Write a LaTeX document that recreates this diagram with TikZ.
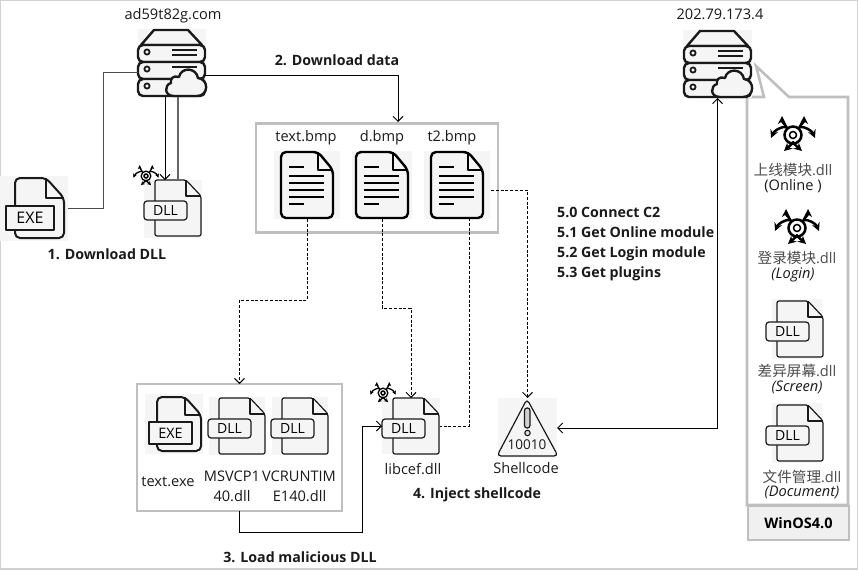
\documentclass[tikz,border=0pt]{standalone}
\usepackage{fontspec}
\setmainfont{Open Sans}
\newfontfamily\cjk{Noto Sans CJK SC}
\usetikzlibrary{arrows.meta}
\definecolor{boxgray}{HTML}{BFBFBF}
\definecolor{icongray}{HTML}{F5F5F5}
\definecolor{ink}{HTML}{1A1A1A}
\tikzset{
  iconbox/.style = {fill=icongray, inner sep=0pt, outer sep=0pt},
  grouped/.style = {draw=boxgray, line width=2.6pt, inner sep=0pt, outer sep=0pt, fill=white},
  lbl/.style = {inner sep=0pt, text=ink, font=\fontsize{14.6}{16}\selectfont},
  stepnote/.style = {lbl, font=\fontsize{14.2}{16}\selectfont\bfseries},
  cjknote/.style = {lbl, text=black!70},
  thin link/.style = {draw=black, line width=.9pt},
  dash link/.style = {draw=black, line width=.9pt, dash pattern=on 3pt off 1.8pt},
  virus line/.style = {line width=2.5pt},
  virus tip/.style = {-{Stealth[length=8pt,width=8pt]}},
  server/.pic = {
    \begin{scope}[line width=2.4pt, draw=ink, fill=icongray, line join=round]
      \filldraw (3,16) -- (16,1) -- (50,1) -- (64,16) -- cycle;
      \filldraw[rounded corners=5pt] (0,16) rectangle (67,33);
      \filldraw[rounded corners=5pt] (0,33) rectangle (67,50);
      \filldraw[rounded corners=5pt] (0,50) rectangle (67,67);
      \draw[line width=1.8pt] (9,23) circle (2.6) (9,40) circle (2.6) (9,57) circle (2.6);
      \draw (34,21) -- (59,21) (34,26) -- (59,26) (34,38) -- (59,38);
      \filldraw (36,67) -- (59,67) .. controls (71,67) and (71,50) .. (60,49)
        .. controls (58,38) and (43,38) .. (41,48)
        .. controls (35,46) and (32,50) .. (33,54)
        .. controls (26,56) and (26,67) .. (36,67) -- cycle;
    \end{scope}
  },
  docfile/.pic = {
    \begin{scope}[line width=2.4pt, draw=black, line join=round]
      \draw[fill=icongray, rounded corners=5pt] (0,0) -- (37,0) -- (52,18) -- (52,66) -- (0,66) -- cycle;
      \draw[line width=1.8pt] (37,0) -- (37,18) -- (52,18);
      \draw[line width=1.8pt] (8,15) -- (23,15) (8,24) -- (43,24) (8,31) -- (43,31)
        (8,38) -- (43,38) (8,45) -- (43,45) (8,52) -- (23,52);
    \end{scope}
  },
  dllfile/.pic = {
    \begin{scope}[line width=1.2pt, draw=ink, line join=round]
      \draw[fill=icongray, rounded corners=2pt] (0,0) -- (31,0) -- (46,16) -- (46,56) -- (0,56) -- cycle;
      \draw (31,0) -- (31,16) -- (46,16);
      \node[draw=ink, fill=icongray, rounded corners=3pt, line width=1.2pt, minimum width=43pt, minimum height=19pt,
        inner sep=0pt, font=\fontsize{14}{15}\selectfont] (-tag) at (10.5,30.5) {DLL};
    \end{scope}
  },
  exefile/.pic = {
    \begin{scope}[line width=2pt, draw=ink, line join=round]
      \draw[fill=icongray, rounded corners=5pt] (0,0) -- (31,0) -- (49,20) -- (49,60) -- (0,60) -- cycle;
      \draw (31,0) -- (31,20) -- (49,20);
      \node[transform shape, draw=ink, fill=icongray, line width=2pt, minimum width=48pt, minimum height=24pt,
        inner sep=0pt, font=\fontsize{16}{16}\selectfont] (-tag) at (15,40) {EXE};
    \end{scope}
  },
  virus/.pic = {
    \begin{scope}[virus line, draw=black, virus tip]
      \draw[-] (0,0) circle (8.5);
      \draw[-,line width=1.5pt] (0,0) circle (3.5);
      \draw (-6,-7) .. controls (-8,-11) and (-11,-13) .. (-11,-19);
      \draw (6,-7) .. controls (8,-11) and (11,-13) .. (11,-19);
      \draw (-6,-8) .. controls (-12,-9) and (-19,-4) .. (-22,3);
      \draw (6,-8) .. controls (12,-9) and (19,-4) .. (22,3);
      \draw (1,7) -- (-9,16);
      \draw (-1,7) -- (9,16);
    \end{scope}
  },
  warnsign/.pic = {
    \draw[draw=ink, line width=1.2pt, fill=icongray, rounded corners=4pt] (29,1) -- (60,58) -- (-1,58) -- cycle;
    \draw[draw=ink, line width=1.2pt, fill=black!18, rounded corners=2.5pt] (26.5,10) rectangle (32,30);
    \draw[draw=ink, line width=1.1pt, fill=black!12] (29.5,35) circle (2.7);
    \node[inner sep=0pt, font=\fontsize{13.5}{14}\selectfont, text=ink] (-num) at (29,47) {10010};
  },
}
\begin{document}
\begin{tikzpicture}[x=1pt, y=-1pt, >={Straight Barb[length=5pt,width=10pt]}, line cap=butt]
\useasboundingbox (0,0) rectangle (858,570);
\draw[draw=black!18, line width=1.5pt] (.5,.5) rectangle (857.5,569);

% groups
\node[grouped, minimum width=242pt, minimum height=109pt] (boxA) at (377,178) {};
\node[grouped, minimum width=205pt, minimum height=127pt] (boxB) at (239.5,447.5) {};
\path[fill=white, draw=boxgray, line width=2.6pt, line join=miter] (747,505) -- (747,97) -- (764,97) -- (756,66) -- (789,97) -- (848,97) -- (848,505) -- cycle;
\node[grouped, fill=black!6, minimum width=101pt, minimum height=34pt, font=\fontsize{14.5}{15}\selectfont\bfseries] (winos) at (798.5,523) {WinOS4.0};

% icon places
\node[iconbox, minimum width=68pt, minimum height=68pt] (srvA) at (171.5,63) {};
\node[iconbox, minimum width=69pt, minimum height=68pt] (srvB) at (717.5,64) {};
\node[iconbox, minimum width=68pt, minimum height=65pt] (exeA) at (34,208) {};
\node[iconbox, minimum width=58pt, minimum height=58pt] (dllA) at (173,209) {};
\node[iconbox, minimum width=66pt, minimum height=68pt] (docA) at (307,185) {};
\node[iconbox, minimum width=60pt, minimum height=68pt] (docD) at (382,185) {};
\node[iconbox, minimum width=66pt, minimum height=68pt] (docT) at (457,185) {};
\node[iconbox, minimum width=58pt, minimum height=60pt] (exeB) at (174,424) {};
\node[iconbox, minimum width=56pt, minimum height=58pt] (dllB) at (237,426) {};
\node[iconbox, minimum width=56pt, minimum height=58pt] (dllC) at (300,426) {};
\node[iconbox, minimum width=58pt, minimum height=56pt] (dllLib) at (411,426) {};
\node[iconbox, minimum width=59pt, minimum height=60pt] (shell) at (527.5,428) {};
\node[iconbox, minimum width=50pt, minimum height=60pt] (dllS) at (797,329) {};
\node[iconbox, minimum width=50pt, minimum height=60pt] (dllF) at (797,433) {};

\pic (srvAi) at (138,29) {server};
\pic (srvBi) at (684,30) {server};
\pic (exeAi) at (15,178) {exefile};
\pic[scale=.9] (exeBi) at (157,397) {exefile};
\pic (dllAi) at (155,180) {dllfile};
\pic (dllBi) at (219,398) {dllfile};
\pic (dllCi) at (282,398) {dllfile};
\pic (dllLibi) at (393,398) {dllfile};
\pic (dllSi) at (777,301) {dllfile};
\pic (dllFi) at (777,405) {dllfile};
\pic (docAi) at (281,152) {docfile};
\pic (docDi) at (356,152) {docfile};
\pic (docTi) at (431,152) {docfile};
\pic (warn) at (498,398) {warnsign};
\pic[scale=.57, virus line/.style={line width=1.3pt}, virus tip/.style={-{Stealth[length=4pt,width=4pt]}}] (virA) at (146,176) {virus};
\pic[scale=.57, virus line/.style={line width=1.3pt}, virus tip/.style={-{Stealth[length=4pt,width=4pt]}}] (virB) at (383,393) {virus};
\pic (virC) at (793,135) {virus};
\pic (virD) at (797,228) {virus};

% connector ends
\coordinate (srvAin) at (138,72);
\coordinate (srvAout) at (205,75);
\coordinate (srvAdl) at (165,97);
\coordinate (srvAup) at (178,97);
\coordinate (dllAin) at (165,180);
\coordinate (dllAout) at (178,180);
\coordinate (boxAin) at (398,122);
\coordinate (docTbot) at (469,218);
\coordinate (docTout) at (491,190);
\coordinate (knotA) at (239.5,300);
\coordinate (knotB) at (411,308);
\coordinate (knotC) at (362,532);
\coordinate (knotD) at (527.5,190);

% connectors
\draw[draw=black!70, line width=1pt] (exeA.east) -| (103,72) -- (srvAin);
\draw[thin link, ->] (srvAdl) -- (dllAin);
\draw[draw=black!60, line width=1.8pt] (srvAup) -- (dllAout);
\draw[thin link, ->] (srvAout) -| (boxAin);
\draw[dash link, ->] (docA.south) |- (knotA) -- (boxB.north);
\draw[dash link, ->] (docD.south) |- (knotB) -- (dllLib.north);
\draw[dash link] (docTbot) |- (dllLib.east);
\draw[dash link, ->] (docTout) -- (knotD) -- (shell.north);
\draw[thin link, ->] (boxB.south) |- (knotC) |- (dllLib.west);
\draw[thin link, <->] (shell.east) -| (srvB.south);

% labels
\node[lbl] (nameA) at (173,16) {ad59t82g.com};
\node[lbl] (nameB) at (720,14) {202.79.173.4};
\node[stepnote] (step1) at (107,254) {1. Download DLL};
\node[stepnote] (step2) at (337,60) {2. Download data};
\node[stepnote] (step3) at (300,557) {3. Load malicious DLL};
\node[stepnote] (step4) at (477,495) {4. Inject shellcode};
\node[stepnote, anchor=base west] (step50) at (557,217) {5.0 Connect C2};
\node[stepnote, anchor=base west] (step51) at (557,237) {5.1 Get Online module};
\node[stepnote, anchor=base west] (step52) at (557,257) {5.2 Get Login module};
\node[stepnote, anchor=base west] (step53) at (557,277) {5.3 Get plugins};
\node[lbl] (textbmp) at (306,138) {text.bmp};
\node[lbl] (dbmp) at (382,138) {d.bmp};
\node[lbl] (tbmp) at (452,138) {t2.bmp};
\node[lbl] (textexe) at (168,482) {text.exe};
\node[lbl] (msvcpa) at (232,476) {MSVCP1};
\node[lbl] (msvcpb) at (232,496) {40.dll};
\node[lbl] (vcrta) at (299,476) {VCRUNTIM};
\node[lbl] (vcrtb) at (299.5,496) {E140.dll};
\node[lbl] (libcef) at (413,469) {libcef.dll};
\node[lbl] (shellname) at (526,468) {Shellcode};
\node[cjknote] (onlinedll) at (793,170) {{\cjk 上线模块}.dll};
\node[lbl] (onlinetag) at (793,186) {(Online )};
\node[cjknote] (logindll) at (797,258) {{\cjk 登录模块}.dll};
\node[lbl] (logintag) at (793,275) {\itshape (Login)};
\node[cjknote] (screendll) at (797,371) {{\cjk 差异屏幕}.dll};
\node[lbl] (screentag) at (797,387) {\itshape (Screen)};
\node[cjknote] (filedll) at (802,477) {{\cjk 文件管理}.dll};
\node[lbl] (filetag) at (802,492) {\itshape (Document)};
\end{tikzpicture}
\end{document}
